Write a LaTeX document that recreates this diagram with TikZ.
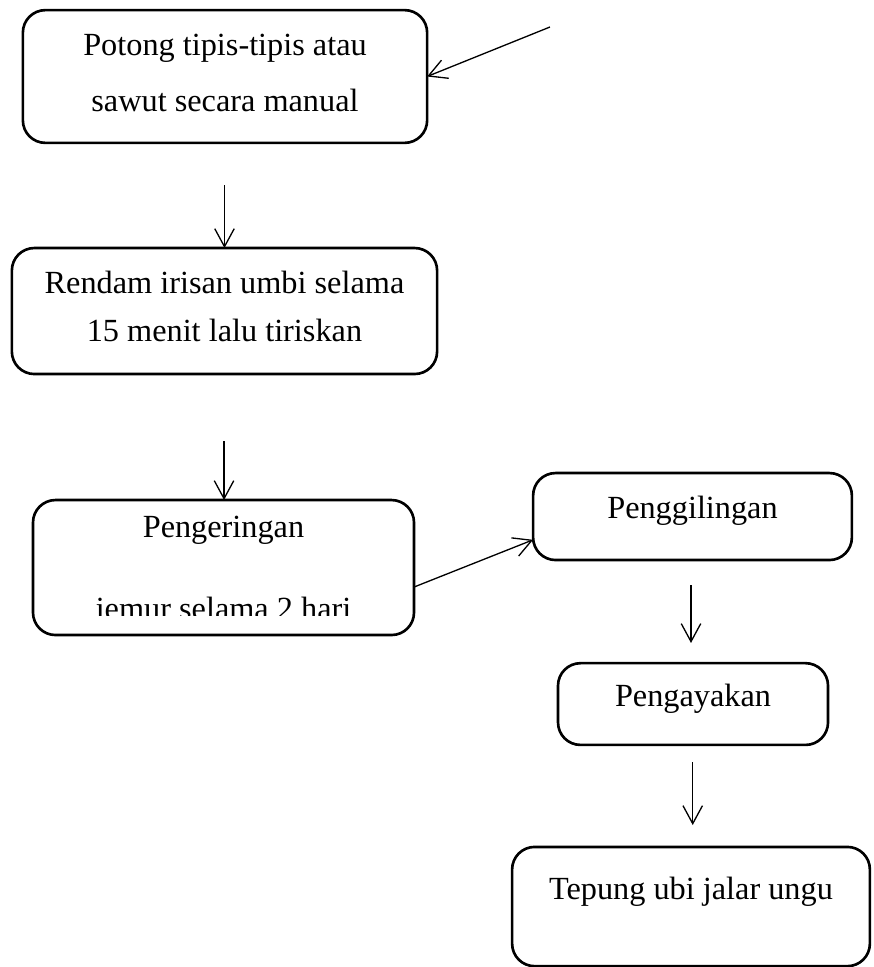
\documentclass[tikz,border=0pt]{standalone}
\usepackage{fontspec}
\setmainfont{Liberation Serif}
\usepackage{tikz}
\usetikzlibrary{arrows.meta,positioning,calc}

\begin{document}
\begin{tikzpicture}[
    stepbox/.style={rectangle, draw, line width=1pt, rounded corners=0.3cm, align=center, inner sep=0pt, outer sep=0pt},
    arrow/.style={-{Straight Barb[length=0.24cm,width=0.26cm]}, line width=0.5pt}
]
    \useasboundingbox (0,0) rectangle (11.64,-12.893);

    % Left column
    \node[stepbox, minimum width=5.39cm, minimum height=1.77cm, text height=1.049cm, text depth=0.103cm, font=\fontsize{12.25}{21.6}\selectfont] (potong) at (3.0,-1.02) {Potong tipis-tipis atau\\sawut secara manual};
    \node[stepbox, minimum width=5.67cm, minimum height=1.68cm, text height=0.93cm, text depth=0.12cm, font=\fontsize{12.25}{18.2}\selectfont] (rendam) at (2.993,-4.147) {Rendam irisan umbi selama\\15 menit lalu tiriskan};
    \node[stepbox, minimum width=5.08cm, minimum height=1.8cm, text height=1.383cm, text depth=0cm, font=\fontsize{12.25}{31.1}\selectfont] (kering) at (2.98,-7.567) {Pengeringan\\jemur selama 2 hari};
    % second line is cut off at the bottom
    \fill[white] ($(kering.south)+(-1.8,0.03)$) rectangle ($(kering.south)+(1.8,0.253)$);

    % Right column
    \node[stepbox, minimum width=4.25cm, minimum height=1.16cm, text height=0.29cm, text depth=0.249cm, font=\fontsize{12.25}{14}\selectfont] (giling) at (9.233,-6.887) {Penggilingan};
    \node[stepbox, minimum width=3.6cm, minimum height=1.09cm, text height=0.29cm, text depth=0.223cm, font=\fontsize{12.25}{14}\selectfont] (ayak) at (9.24,-9.387) {Pengayakan};
    \node[stepbox, minimum width=4.77cm, minimum height=1.59cm, text height=0.29cm, text depth=0.489cm, font=\fontsize{12.25}{14}\selectfont] (tepung) at (9.213,-12.087) {Tepung ubi jalar ungu};

    % Arrows
    \coordinate (masuk) at (7.333,-0.36);
    \coordinate (a1) at (2.993,-2.467);
    \coordinate (a2) at (2.987,-5.88);
    \coordinate (a3) at (9.213,-7.8);
    \coordinate (a3end) at (9.213,-8.573);
    \coordinate (a4) at (9.236,-10.16);
    \coordinate (a4end) at (9.236,-11.0);

    \draw[arrow] (masuk) -- (potong.east);
    \draw[arrow] (a1) -- (a1 |- rendam.north);
    \draw[arrow] (a2) -- (a2 |- kering.north);
    \draw[arrow] ([yshift=-0.26cm]kering.east) -- ([yshift=-0.31cm]giling.west);
    \draw[arrow] (a3) -- (a3end);
    \draw[arrow] (a4) -- (a4end);
\end{tikzpicture}
\end{document}
